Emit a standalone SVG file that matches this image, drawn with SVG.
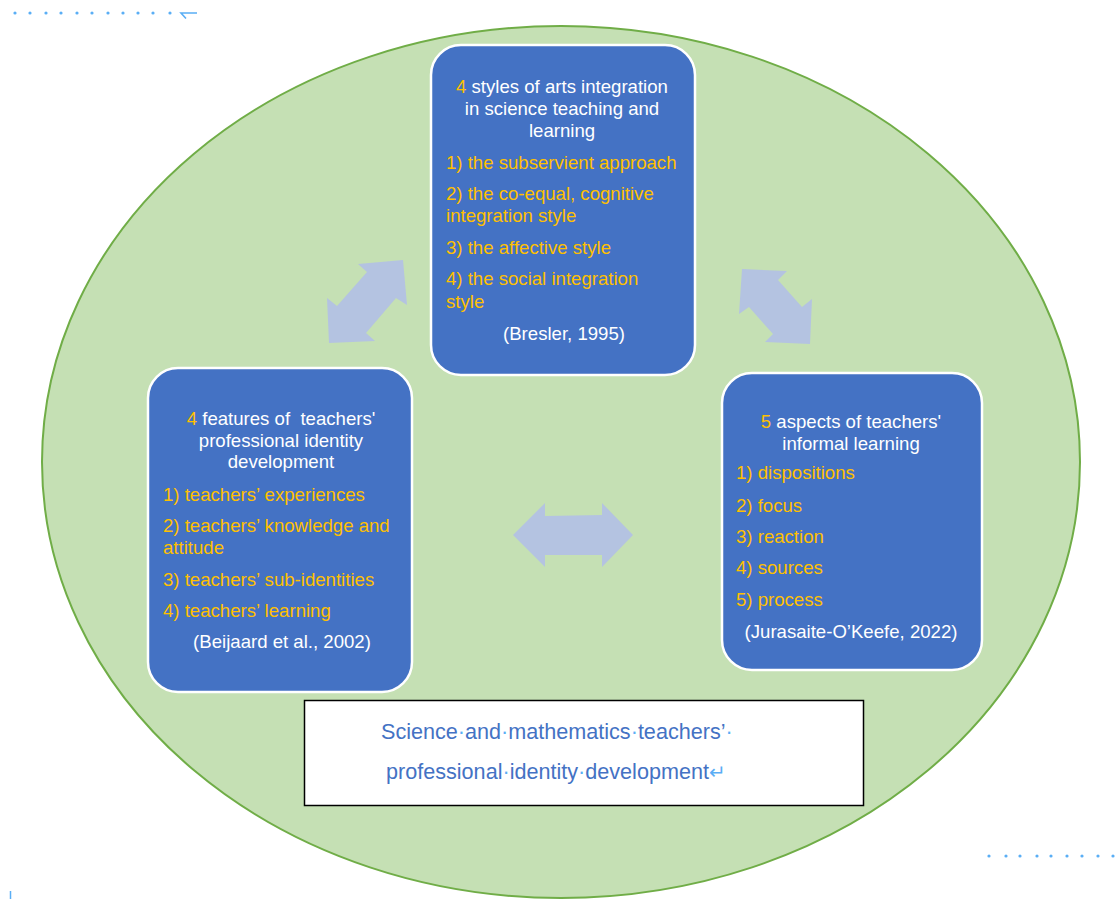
<svg xmlns="http://www.w3.org/2000/svg" width="1119" height="899" viewBox="0 0 1119 899">
<style>
.box{fill:#4472c4;stroke:#ffffff;stroke-width:2.5}
.t{font-family:"Liberation Sans",Arial,sans-serif;font-size:18.6px;fill:#ffffff}
.c{text-anchor:middle}
.o{fill:#ffc000}
.arr{fill:#b4c3e1}
.dot{fill:#5aaef5}
.main{font-family:"Liberation Sans",Arial,sans-serif;font-size:21.6px;fill:#4472c4}
.mk{fill:#5aaef5}
</style>
<rect width="1119" height="899" fill="#ffffff"/>
<g id="marks">
<g class="dot">
<circle cx="15" cy="13" r="1.6"/><circle cx="30" cy="13" r="1.6"/><circle cx="46" cy="13" r="1.6"/><circle cx="61" cy="13" r="1.6"/><circle cx="77" cy="13" r="1.6"/><circle cx="92" cy="13" r="1.6"/><circle cx="108" cy="13" r="1.6"/><circle cx="123" cy="13" r="1.6"/><circle cx="138" cy="13" r="1.6"/><circle cx="153" cy="13" r="1.6"/><circle cx="170" cy="13" r="1.6"/>
<circle cx="989" cy="856" r="1.6"/><circle cx="1006" cy="856" r="1.6"/><circle cx="1020" cy="856" r="1.6"/><circle cx="1037" cy="856" r="1.6"/><circle cx="1051" cy="856" r="1.6"/><circle cx="1067" cy="856" r="1.6"/><circle cx="1082" cy="856" r="1.6"/><circle cx="1098" cy="856" r="1.6"/><circle cx="1113" cy="856" r="1.6"/>
</g>
<path d="M197,13 H181 L186,18.5" fill="none" stroke="#5aaef5" stroke-width="1.6"/>
<line x1="10.5" y1="891" x2="10.5" y2="899" stroke="#5aaef5" stroke-width="1.5"/>
</g>
<g id="background">
<ellipse cx="561" cy="462" rx="519" ry="436" fill="#c5e0b4" stroke="#70ad47" stroke-width="2"/>
</g>
<g id="connectors">
<polygon class="arr" points="403,260 407,305 396,298 366,333 375,341 329,343 327,298 337,306 367,272 358,264"/>
<polygon class="arr" points="742,269 787,271 778,280 802,307 812,299 810,344 765,342 773,334 749,307 739,314"/>
<polygon class="arr" points="513,535 545,503 545,516 602,515 602,503 633,535 602,567 602,555 545,555 545,567"/>
</g>
<g id="node-top">
<rect class="box" x="431" y="45" width="264" height="330" rx="30"/>
<text class="t c" x="562" y="93"><tspan class="o">4</tspan> styles of arts integration</text>
<text class="t c" x="562" y="115">in science teaching and</text>
<text class="t c" x="562" y="137">learning</text>
<text class="t o" x="446" y="169">1) the subservient approach</text>
<text class="t o" x="446" y="200">2) the co-equal, cognitive</text>
<text class="t o" x="446" y="222">integration style</text>
<text class="t o" x="446" y="254">3) the affective style</text>
<text class="t o" x="446" y="285">4) the social integration</text>
<text class="t o" x="446" y="308">style</text>
<text class="t c" x="564" y="340">(Bresler, 1995)</text>
</g>
<g id="node-left">
<rect class="box" x="148" y="368" width="264" height="324" rx="30"/>
<text class="t c" x="281" y="425" xml:space="preserve"><tspan class="o">4</tspan> features of  teachers'</text>
<text class="t c" x="281" y="447">professional identity</text>
<text class="t c" x="281" y="468">development</text>
<text class="t o" x="163" y="501">1) teachers’ experiences</text>
<text class="t o" x="163" y="532">2) teachers’ knowledge and</text>
<text class="t o" x="163" y="554">attitude</text>
<text class="t o" x="163" y="586">3) teachers’ sub-identities</text>
<text class="t o" x="163" y="617">4) teachers’ learning</text>
<text class="t c" x="282" y="648">(Beijaard et al., 2002)</text>
</g>
<g id="node-right">
<rect class="box" x="722" y="373" width="260" height="297" rx="30"/>
<text class="t c" x="851" y="428"><tspan class="o">5</tspan> aspects of teachers'</text>
<text class="t c" x="851" y="450">informal learning</text>
<text class="t o" x="736" y="479">1) dispositions</text>
<text class="t o" x="736" y="512">2) focus</text>
<text class="t o" x="736" y="543">3) reaction</text>
<text class="t o" x="736" y="574">4) sources</text>
<text class="t o" x="736" y="606">5) process</text>
<text class="t c" x="851" y="638">(Jurasaite-O’Keefe, 2022)</text>
</g>
<g id="node-title">
<rect x="304.5" y="700.5" width="559" height="105" fill="#ffffff" stroke="#000000" stroke-width="1.5"/>
<text class="main" x="381" y="739">Science<tspan class="mk">·</tspan>and<tspan class="mk">·</tspan>mathematics<tspan class="mk">·</tspan>teachers’<tspan class="mk">·</tspan></text>
<text class="main" x="386" y="779">professional<tspan class="mk">·</tspan>identity<tspan class="mk">·</tspan>development<tspan class="mk" font-size="20">↵</tspan></text>
</g>
</svg>
